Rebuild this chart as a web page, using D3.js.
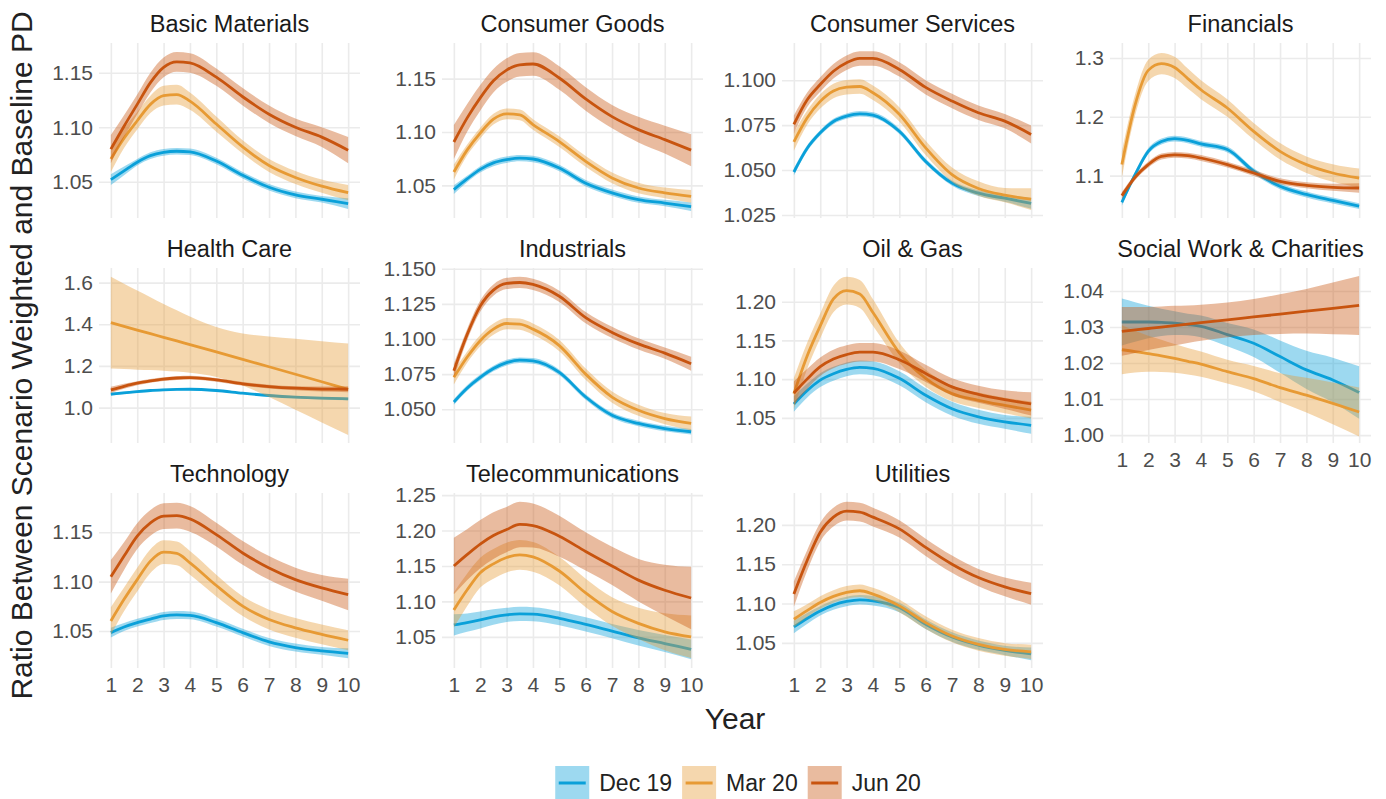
<!DOCTYPE html>
<html><head><meta charset="utf-8">
<script src="https://cdn.jsdelivr.net/npm/d3@7"></script>
<style>
body{margin:0;background:#fff}
text{font-family:"Liberation Sans",Arial,sans-serif}
</style>
</head><body>
<svg id="chart" width="1386" height="799"></svg>
<script>
// ---------------- DATA ----------------
const years = [1, 1.5, 2, 2.5, 3, 3.5, 4, 5, 6, 7, 8, 9, 10];
const xTickLabels = ["1","2","3","4","5","6","7","8","9","10"];
const seriesNames = ["Dec 19", "Mar 20", "Jun 20"];
const panelNames = ["Basic Materials","Consumer Goods","Consumer Services","Financials",
  "Health Care","Industrials","Oil & Gas","Social Work & Charities",
  "Technology","Telecommunications","Utilities"];

// y tick labels per panel
const yTickLabels = [
  ["1.05","1.10","1.15"],
  ["1.05","1.10","1.15"],
  ["1.025","1.050","1.075","1.100"],
  ["1.1","1.2","1.3"],
  ["1.0","1.2","1.4","1.6"],
  ["1.050","1.075","1.100","1.125","1.150"],
  ["1.05","1.10","1.15","1.20"],
  ["1.00","1.01","1.02","1.03","1.04"],
  ["1.05","1.10","1.15"],
  ["1.05","1.10","1.15","1.20","1.25"],
  ["1.05","1.10","1.15","1.20"]
];
// y-axis limits per panel
const yLimits = [
  [1.0168, 1.1773], [1.0194, 1.1834], [1.0233, 1.1207], [1.028, 1.3255],
  [0.830, 1.670], [1.026, 1.1505], [1.0175, 1.2435], [0.9978, 1.0464],
  [1.0125, 1.1897], [1.006, 1.253], [1.018, 1.2405]
];

// fitted values, rows = Dec 19, Mar 20, Jun 20 ; columns follow `years`
const basicMaterialsFit = [
  [1.052,1.060,1.068,1.074,1.077,1.078,1.0775,1.069,1.056,1.045,1.038,1.034,1.030],
  [1.071,1.090,1.106,1.121,1.129,1.130,1.124,1.103,1.082,1.065,1.054,1.046,1.040],
  [1.080,1.101,1.121,1.141,1.155,1.160,1.159,1.146,1.128,1.112,1.100,1.091,1.079]];
const basicMaterialsCI = [
  [0.005,0.004,0.003,0.003,0.003,0.003,0.003,0.003,0.003,0.003,0.003,0.003,0.005],
  [0.012,0.009,0.008,0.008,0.009,0.009,0.008,0.007,0.006,0.006,0.006,0.006,0.007],
  [0.013,0.010,0.009,0.009,0.009,0.009,0.009,0.008,0.008,0.008,0.008,0.009,0.012]];

const consumerGoodsFit = [
  [1.046,1.056,1.065,1.071,1.074,1.0755,1.0747,1.0662,1.052,1.043,1.0366,1.0334,1.030],
  [1.0625,1.083,1.099,1.112,1.117,1.116,1.107,1.091,1.0725,1.057,1.0475,1.043,1.0397],
  [1.0906,1.113,1.132,1.148,1.158,1.163,1.1637,1.1506,1.131,1.1144,1.1022,1.0928,1.083]];
const consumerGoodsCI = [
  [0.004,0.003,0.003,0.003,0.003,0.003,0.003,0.003,0.003,0.003,0.003,0.003,0.004],
  [0.007,0.005,0.005,0.005,0.005,0.005,0.005,0.005,0.005,0.005,0.005,0.005,0.006],
  [0.016,0.013,0.012,0.011,0.011,0.011,0.011,0.011,0.011,0.011,0.012,0.013,0.015]];

const consumerServicesFit = [
  [1.0489,1.062,1.0707,1.077,1.080,1.0813,1.0806,1.0716,1.0548,1.0427,1.0371,1.0343,1.0315],
  [1.0657,1.079,1.0882,1.094,1.0961,1.0965,1.093,1.081,1.0623,1.0474,1.0397,1.036,1.0338],
  [1.0754,1.089,1.0976,1.105,1.1097,1.1121,1.1121,1.106,1.096,1.0884,1.0819,1.0772,1.0698]];
const consumerServicesCI = [
  [0.002,0.0017,0.0015,0.0015,0.0015,0.0015,0.0015,0.0015,0.0015,0.0015,0.0016,0.002,0.003],
  [0.005,0.004,0.004,0.004,0.004,0.004,0.004,0.004,0.004,0.004,0.004,0.004,0.006],
  [0.005,0.004,0.004,0.004,0.004,0.004,0.004,0.004,0.004,0.004,0.004,0.004,0.005]];

const financialsFit = [
  [1.0547,1.1017,1.1414,1.158,1.163,1.160,1.154,1.1445,1.1076,1.082,1.068,1.0578,1.0482],
  [1.119,1.220,1.279,1.2905,1.284,1.265,1.246,1.215,1.1753,1.1413,1.1187,1.1045,1.096],
  [1.066,1.097,1.1187,1.1326,1.1354,1.134,1.130,1.1187,1.1045,1.0904,1.0836,1.0802,1.079]];
const financialsCI = [
  [0.006,0.005,0.005,0.005,0.005,0.005,0.005,0.005,0.005,0.005,0.005,0.005,0.005],
  [0.022,0.018,0.018,0.018,0.018,0.017,0.016,0.015,0.014,0.014,0.014,0.015,0.016],
  [0.006,0.005,0.005,0.005,0.005,0.005,0.005,0.005,0.005,0.005,0.005,0.006,0.008]];

const healthCareFit = [
  [1.064,1.071,1.077,1.082,1.085,1.087,1.088,1.082,1.069,1.058,1.050,1.045,1.042],
  [1.408,1.390,1.372,1.355,1.337,1.320,1.302,1.267,1.231,1.196,1.160,1.124,1.088],
  [1.085,1.102,1.117,1.128,1.137,1.142,1.144,1.133,1.114,1.101,1.093,1.089,1.088]];
const healthCareCI = [
  [0.007,0.006,0.005,0.005,0.005,0.005,0.005,0.005,0.005,0.005,0.005,0.006,0.007],
  [0.22,0.205,0.19,0.175,0.16,0.147,0.135,0.12,0.125,0.145,0.17,0.195,0.22],
  [0.015,0.012,0.010,0.009,0.009,0.009,0.009,0.009,0.009,0.009,0.010,0.012,0.014]];

const industrialsFit = [
  [1.0552,1.065,1.0727,1.079,1.0832,1.0849,1.0844,1.0762,1.0587,1.0457,1.0399,1.0363,1.034],
  [1.0727,1.087,1.0988,1.107,1.111,1.1105,1.107,1.0953,1.075,1.0587,1.0493,1.0434,1.0399],
  [1.0774,1.103,1.1234,1.1348,1.1395,1.1402,1.1388,1.1304,1.1152,1.1047,1.0965,1.0899,1.0824]];
const industrialsCI = [
  [0.002,0.002,0.002,0.002,0.002,0.002,0.002,0.002,0.002,0.002,0.002,0.002,0.002],
  [0.005,0.004,0.004,0.004,0.004,0.004,0.004,0.004,0.004,0.004,0.004,0.004,0.005],
  [0.005,0.004,0.004,0.004,0.004,0.004,0.004,0.004,0.004,0.004,0.004,0.004,0.005]];

const oilGasFit = [
  [1.0678,1.085,1.0987,1.107,1.1126,1.1152,1.114,1.101,1.0791,1.0617,1.0513,1.0448,1.0404],
  [1.0813,1.1296,1.1687,1.2035,1.2143,1.210,1.186,1.134,1.101,1.0813,1.0726,1.066,1.060],
  [1.082,1.100,1.116,1.126,1.1317,1.1348,1.1348,1.125,1.1074,1.090,1.0804,1.0735,1.068]];
const oilGasCI = [
  [0.010,0.009,0.009,0.009,0.009,0.009,0.009,0.009,0.009,0.009,0.009,0.009,0.011],
  [0.020,0.017,0.016,0.017,0.018,0.018,0.017,0.013,0.011,0.010,0.010,0.010,0.011],
  [0.015,0.013,0.012,0.012,0.012,0.012,0.012,0.012,0.011,0.011,0.011,0.012,0.015]];

const socialWorkFit = [
  [1.0314,1.0314,1.0314,1.0313,1.0311,1.0307,1.0302,1.0279,1.0255,1.0218,1.0181,1.0153,1.0118],
  [1.0237,1.0232,1.0226,1.0220,1.0213,1.0205,1.0197,1.0176,1.0157,1.0132,1.0111,1.0088,1.0064],
  [1.0288,1.0292,1.0296,1.0300,1.0304,1.0308,1.0312,1.0320,1.0328,1.0336,1.0344,1.0352,1.0360]];
const socialWorkCI = [
  [0.0065,0.0055,0.0045,0.0038,0.0033,0.0030,0.0030,0.0032,0.0038,0.0045,0.0053,0.0062,0.0073],
  [0.0068,0.0058,0.0050,0.0045,0.0040,0.0037,0.0035,0.0033,0.0035,0.0040,0.0048,0.0058,0.0068],
  [0.0068,0.0064,0.0060,0.0057,0.0055,0.0052,0.0050,0.0048,0.0050,0.0055,0.0062,0.0072,0.0082]];

const technologyFit = [
  [1.0483,1.054,1.0584,1.062,1.0652,1.0662,1.0658,1.0584,1.0483,1.0389,1.0332,1.0298,1.0274],
  [1.0601,1.082,1.102,1.1207,1.1298,1.1285,1.119,1.096,1.0751,1.0616,1.0532,1.0466,1.0406],
  [1.1049,1.1258,1.146,1.1594,1.1662,1.1668,1.1635,1.1476,1.129,1.1138,1.102,1.0936,1.0869]];
const technologyCI = [
  [0.005,0.004,0.004,0.004,0.004,0.004,0.004,0.004,0.004,0.004,0.004,0.004,0.005],
  [0.014,0.012,0.012,0.012,0.012,0.012,0.012,0.011,0.010,0.010,0.010,0.010,0.010],
  [0.017,0.014,0.013,0.013,0.013,0.013,0.013,0.012,0.012,0.012,0.012,0.013,0.016]];

const telecomFit = [
  [1.0667,1.070,1.0738,1.078,1.081,1.0824,1.0819,1.0762,1.0676,1.0581,1.0486,1.0405,1.0324],
  [1.088,1.116,1.1405,1.153,1.1619,1.1657,1.1629,1.1429,1.1119,1.0857,1.069,1.0571,1.050],
  [1.150,1.166,1.1809,1.193,1.2014,1.2086,1.2071,1.1919,1.1705,1.150,1.130,1.1157,1.1048]];
const telecomCI = [
  [0.015,0.013,0.012,0.011,0.010,0.010,0.010,0.010,0.010,0.010,0.011,0.012,0.014],
  [0.025,0.023,0.021,0.021,0.021,0.021,0.021,0.020,0.020,0.020,0.022,0.026,0.030],
  [0.040,0.036,0.034,0.033,0.032,0.032,0.031,0.029,0.027,0.027,0.030,0.036,0.044]];

const utilitiesFit = [
  [1.0702,1.081,1.0906,1.098,1.1026,1.1047,1.1034,1.0949,1.0736,1.0574,1.0471,1.0403,1.036],
  [1.080,1.091,1.1013,1.109,1.1141,1.1162,1.112,1.097,1.0757,1.0586,1.048,1.0416,1.0386],
  [1.112,1.1544,1.1906,1.2098,1.2175,1.2162,1.2098,1.1949,1.1714,1.150,1.133,1.1211,1.1125]];
const utilitiesCI = [
  [0.008,0.007,0.006,0.006,0.006,0.006,0.006,0.006,0.006,0.006,0.006,0.006,0.008],
  [0.010,0.008,0.008,0.008,0.008,0.008,0.008,0.008,0.008,0.008,0.008,0.008,0.009],
  [0.016,0.013,0.012,0.012,0.012,0.012,0.012,0.011,0.011,0.011,0.011,0.012,0.014]];

// ---------------- BUILD ----------------
const fits = [basicMaterialsFit, consumerGoodsFit, consumerServicesFit, financialsFit,
  healthCareFit, industrialsFit, oilGasFit, socialWorkFit, technologyFit, telecomFit, utilitiesFit];
const cis = [basicMaterialsCI, consumerGoodsCI, consumerServicesCI, financialsCI,
  healthCareCI, industrialsCI, oilGasCI, socialWorkCI, technologyCI, telecomCI, utilitiesCI];

const lineColors = ["#0aa0d9", "#e79a34", "#c8540f"];
const colLeft = [99, 442, 782, 1110];
const rowTop = [43, 268, 493];
const panelW = 261, panelH = 175;
const nCols = 4;
const fontFam = '"Liberation Sans",Arial,sans-serif';

const svg = d3.select("#chart");
svg.append("rect").attr("width", 1386).attr("height", 799).attr("fill", "#fff");

const x = d3.scaleLinear().domain([0.55, 10.45]).range([0, panelW]);
const curve = d3.curveMonotoneX;

panelNames.forEach((name, i) => {
  const col = i % nCols, row = Math.floor(i / nCols);
  const g = svg.append("g").attr("transform", `translate(${colLeft[col]},${rowTop[row]})`);
  const y = d3.scaleLinear().domain(yLimits[i]).range([panelH, 0]);
  const yt = yTickLabels[i].map(Number);

  // grid via axes
  g.append("g")
    .call(d3.axisBottom(x).tickValues(xTickLabels.map(Number)).tickSize(panelH).tickFormat(""))
    .call(a => a.select(".domain").remove())
    .call(a => a.selectAll("line").attr("stroke", "#ebebeb").attr("stroke-width", 1.6));
  g.append("g")
    .call(d3.axisRight(y).tickValues(yt).tickSize(panelW).tickFormat(""))
    .call(a => a.select(".domain").remove())
    .call(a => a.selectAll("line").attr("stroke", "#ebebeb").attr("stroke-width", 1.6));

  // y tick labels
  g.append("g")
    .call(d3.axisLeft(y).tickValues(yt).tickSize(0).tickPadding(6)
      .tickFormat((d, k) => yTickLabels[i][k]))
    .call(a => a.select(".domain").remove())
    .call(a => a.selectAll("text").attr("font-size", 21).attr("fill", "#4d4d4d").attr("font-family", fontFam));

  // x tick labels only where no panel below
  if (i + nCols >= panelNames.length) {
    g.append("g").attr("transform", `translate(0,${panelH})`)
      .call(d3.axisBottom(x).tickValues(xTickLabels.map(Number)).tickSize(0).tickPadding(9)
        .tickFormat((d, k) => xTickLabels[k]))
      .call(a => a.select(".domain").remove())
      .call(a => a.selectAll("text").attr("font-size", 21).attr("fill", "#4d4d4d").attr("font-family", fontFam));
  }

  // strip title
  g.append("text").attr("x", panelW / 2).attr("y", -11)
    .attr("text-anchor", "middle").attr("font-size", 23.5).attr("fill", "#1a1a1a").text(name);

  // smooths: ribbon then line, per series
  seriesNames.forEach((s, k) => {
    const pts = years.map((yr, j) => ({ x: yr, v: fits[i][k][j], se: cis[i][k][j] }));
    g.append("path").datum(pts)
      .attr("fill", lineColors[k]).attr("fill-opacity", 0.4)
      .attr("d", d3.area().curve(curve).x(d => x(d.x)).y0(d => y(d.v - d.se)).y1(d => y(d.v + d.se)));
    g.append("path").datum(pts)
      .attr("fill", "none").attr("stroke", lineColors[k]).attr("stroke-width", 2.8)
      .attr("d", d3.line().curve(curve).x(d => x(d.x)).y(d => y(d.v)));
  });
});

// axis titles
const plotLeft = colLeft[0], plotRight = colLeft[3] + panelW;
svg.append("text").attr("x", (plotLeft + plotRight) / 2).attr("y", 729)
  .attr("text-anchor", "middle").attr("font-size", 30).attr("fill", "#222").text("Year");
svg.append("text")
  .attr("transform", `translate(32,${(rowTop[0] + rowTop[2] + panelH) / 2}) rotate(-90)`)
  .attr("text-anchor", "middle").attr("font-size", 30).attr("fill", "#222")
  .text("Ratio Between Scenario Weighted and Baseline PD");

// legend
const leg = svg.append("g");
const keySize = 34, gap = 10;
let cx = 0;
seriesNames.forEach((s, k) => {
  const it = leg.append("g");
  it.append("rect").attr("x", 0).attr("y", -keySize / 2).attr("width", keySize).attr("height", keySize)
    .attr("fill", lineColors[k]).attr("fill-opacity", 0.4);
  it.append("line").attr("x1", 3.5).attr("x2", keySize - 3.5).attr("y1", 0).attr("y2", 0)
    .attr("stroke", lineColors[k]).attr("stroke-width", 3);
  const t = it.append("text").attr("x", keySize + gap).attr("y", 0).attr("dy", "0.35em")
    .attr("font-size", 23).attr("fill", "#222").text(s);
  const w = keySize + gap + t.node().getComputedTextLength();
  it.attr("transform", `translate(${cx},0)`);
  cx += w + gap;
});
const legW = cx - gap;
leg.attr("transform", `translate(${(plotLeft + plotRight) / 2 - legW / 2 + 3},783)`);
</script>
</body></html>
